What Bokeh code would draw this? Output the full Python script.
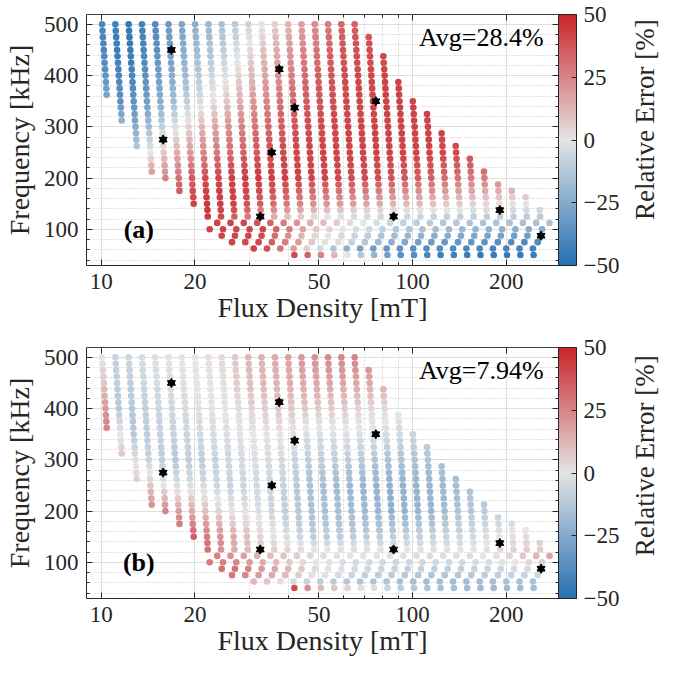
import numpy as np
from bokeh.plotting import figure
from bokeh.models import (LinearColorMapper, ColorBar, FixedTicker, Label, LinearAxis,
                          LogAxis, ColumnDataSource, Range1d, PrintfTickFormatter)
from bokeh.layouts import column, row
from bokeh.embed import file_html
from bokeh.resources import INLINE

FONT = "Liberation Serif"
INK = "#262626"

# ---------------- measurement grid (read from the picture) ----------------
# each row: frequency [kHz], flux density of the first (left-most) point [mT], number of points
row_freq = [500, 487.5, 475, 462.5, 450, 437.5, 425, 412.5, 400, 387.5, 375, 362.5,
            350, 337.5, 325, 312.5, 300, 287.5, 275, 262.5, 250, 237.5, 225, 212.5,
            200, 187.5, 175, 162.5, 150, 137.5, 125, 112.5, 100, 87.5, 75, 62.5, 50]
row_b_first = [10.06, 10.09, 10.12, 10.16, 10.19, 10.22, 10.25, 10.29, 10.32, 10.35, 10.38, 10.41,
               11.52, 11.56, 11.60, 11.63, 12.88, 12.92, 12.96, 13.00, 14.38, 14.43, 14.48, 14.52,
               16.07, 17.78, 17.83, 19.75, 19.81, 21.93, 21.98, 23.57, 22.30, 24.37, 26.30, 30.88, 41.71]
row_count = [20, 20, 21, 21, 21, 22, 22, 22, 22, 23, 23, 23,
             23, 23, 24, 24, 23, 24, 24, 25, 24, 25, 25, 26,
             25, 25, 26, 26, 26, 26, 26, 26, 26, 25, 24, 22, 19]
b_step = 1.1033          # ratio between neighbouring flux-density points in a row
col_slant = 1.0915e-4    # drift of a column (log10 B per kHz)

# ---------------- relative error read at anchor cells ----------------
# columns: index of the point column (0 = 10 mT column), rows: frequency [kHz]
err_cols = [0, 1, 2, 3, 4, 5, 6, 7, 9, 11, 13, 15, 18, 21, 24, 27, 30, 33]
err_freqs = [500, 450, 400, 350, 300, 250, 200, 150, 125, 112.5, 100, 87.5, 75, 62.5, 50]

err_a = [
    [-40, -43, -46, -42, -38, -32, -27, -23, -16, -7, 6, 18, 33, 38, 40, 40, 40, 40],
    [-40, -44, -45, -40, -36, -30, -24, -18, -10, 3, 15, 25, 37, 40, 40, 40, 40, 40],
    [-35, -40, -41, -36, -30, -25, -18, -12, -2, 12, 22, 32, 40, 42, 42, 42, 42, 42],
    [-25, -35, -35, -30, -24, -17, -10, -4, 8, 20, 30, 36, 40, 42, 42, 42, 42, 42],
    [-18, -18, -25, -17, -9, -2, 5, 12, 22, 30, 36, 40, 42, 42, 42, 42, 42, 42],
    [-10, -10, -10, 0, 8, 15, 20, 25, 32, 37, 40, 42, 42, 42, 42, 40, 40, 40],
    [25, 25, 25, 25, 25, 30, 36, 40, 43, 44, 43, 42, 40, 38, 34, 28, 25, 25],
    [40, 40, 40, 40, 40, 40, 42, 45, 42, 35, 28, 22, 18, 13, 9, 5, 1, 0],
    [45, 45, 45, 45, 45, 45, 45, 45, 35, 20, 10, 3, -4, -6, -8, -10, -10, -12],
    [42, 42, 42, 42, 42, 42, 42, 42, 42, 38, 25, 12, 2, -8, -12, -14, -15, -15],
    [42, 42, 42, 42, 42, 42, 42, 42, 42, 42, 28, 8, -3, -12, -17, -20, -23, -25],
    [42, 42, 42, 42, 42, 42, 42, 42, 42, 40, 22, 3, -8, -18, -24, -27, -30, -32],
    [42, 42, 42, 42, 42, 42, 42, 42, 42, 40, 25, 5, -10, -25, -32, -35, -38, -40],
    [42, 42, 42, 42, 42, 42, 42, 42, 42, 42, 22, -3, -28, -35, -38, -40, -42, -42],
    [45, 45, 45, 45, 45, 45, 45, 45, 45, 45, 42, 30, -10, -35, -42, -45, -45, -45],
]
err_b = [
    [0, -8, -6, -4, -2, -1, 0, 0, 3, 12, 15, 20, 25, 25, 25, 25, 25, 25],
    [8, -10, -10, -6, -4, -3, -2, 0, 2, 10, 13, 16, 17, 15, 15, 15, 15, 15],
    [20, -12, -12, -10, -7, -6, -4, -2, 0, 5, 8, 8, 6, 3, 0, 0, 0, 0],
    [28, 0, -12, -10, -8, -8, -7, -5, -3, 0, 0, -3, -2, -4, -8, -8, -8, -8],
    [10, 10, -2, -8, -10, -12, -10, -10, -6, -3, -5, -10, -10, -15, -14, -15, -15, -15],
    [8, 8, 8, 8, 0, -3, -3, -5, -8, -5, -8, -15, -19, -22, -20, -15, -15, -15],
    [25, 25, 25, 25, 25, 18, 15, 10, 0, -3, -10, -15, -17, -22, -20, -12, -8, -8],
    [35, 35, 35, 35, 35, 35, 35, 28, 15, 5, -3, -10, -11, -10, -8, -5, 2, 5],
    [30, 30, 30, 30, 30, 30, 30, 30, 15, 6, 5, 0, 2, 0, -2, 0, 5, 8],
    [28, 28, 28, 28, 28, 28, 28, 28, 20, 12, 8, 3, 0, -2, -3, -2, 5, 18],
    [28, 28, 28, 28, 28, 28, 28, 28, 25, 15, 8, 0, -4, -6, -6, -5, 0, 10],
    [32, 32, 32, 32, 32, 32, 32, 32, 30, 20, 12, 3, -5, -8, -10, -8, -5, -3],
    [30, 30, 30, 30, 30, 30, 30, 30, 28, 18, 10, 0, -8, -12, -14, -12, -8, -5],
    [15, 15, 15, 15, 15, 15, 15, 15, 15, 10, -3, -10, -13, -15, -17, -17, -15, -15],
    [45, 45, 45, 45, 45, 45, 45, 45, 45, 45, 45, 12, 3, -10, -15, -18, -18, -15],
]

# highlighted operating points (stars)
star_b = [16.8, 15.8, 37.3, 41.8, 35.3, 32.4, 76.2, 86.9, 190.6, 258.6]
star_f = [450, 275, 412.5, 337.5, 250, 125, 350, 125, 137.5, 87.5]

avg_a = "Avg=28.4%"
avg_b = "Avg=7.94%"

x_ticks = [10, 20, 50, 100, 200]
x_minor = [30, 40, 60, 70, 80, 90]
y_ticks = [100, 200, 300, 400, 500]
y_minor = [40, 60, 80, 120, 140, 160, 180, 220, 240, 260, 280, 320, 340, 360, 380,
           420, 440, 460, 480, 520]
cb_ticks = [-50, -25, 0, 25, 50]

# ---------------- build points ----------------
pts_b, pts_f = [], []
for f, b0, n in zip(row_freq, row_b_first, row_count):
    for k in range(n):
        pts_b.append(b0 * b_step ** k)
        pts_f.append(f)
pts_b = np.array(pts_b)
pts_f = np.array(pts_f, dtype=float)


def lookup(table):
    tab = np.array(table, dtype=float)
    u = (np.log10(pts_b / row_b_first[0]) - col_slant * (500 - pts_f)) / np.log10(b_step)
    per_row = np.array([np.interp(u, err_cols, tab[i]) for i in range(len(err_freqs))])
    fa = np.array(err_freqs, dtype=float)[::-1]
    per_row = per_row[::-1]
    out = np.empty(len(pts_b))
    for j in range(len(pts_b)):
        out[j] = np.interp(pts_f[j], fa, per_row[:, j])
    return out


def make_palette():
    lo = np.array([38, 112, 178.0])
    mid = np.array([229, 229, 229.0])
    hi = np.array([201, 38, 43.0])
    cols = []
    for t in np.linspace(0, 1, 256):
        c = lo + (mid - lo) * t * 2 if t < 0.5 else mid + (hi - mid) * (t - 0.5) * 2
        cols.append("#%02x%02x%02x" % tuple(int(round(v)) for v in c))
    return cols


mapper = LinearColorMapper(palette=make_palette(), low=-50, high=50)

TOP = 14
FRAME_H = 251


def style_axis(ax, show_labels=True):
    ax.axis_line_color = None
    ax.major_tick_in = 6
    ax.major_tick_out = 0
    ax.minor_tick_in = 3
    ax.minor_tick_out = 0
    ax.major_tick_line_color = INK
    ax.minor_tick_line_color = INK
    ax.major_label_text_font = FONT
    ax.major_label_text_color = INK
    ax.axis_label_text_font = FONT
    ax.axis_label_text_font_style = "normal"
    ax.axis_label_text_color = INK
    if show_labels:
        ax.major_label_text_font_size = "23px"
        ax.axis_label_text_font_size = "28px"
    else:
        ax.major_label_text_font_size = "0px"
        ax.major_label_standoff = 0


def make_panel(err_table, tag, avg_text, bottom_border):
    p = figure(x_axis_type="log", x_range=Range1d(8.965, 294.2), y_range=Range1d(29.4, 519.2),
               frame_width=472, frame_height=FRAME_H, min_border_left=85, min_border_right=69,
               min_border_top=TOP, min_border_bottom=bottom_border,
               output_backend="svg", toolbar_location=None,
               background_fill_color="white", border_fill_color="white")
    p.outline_line_color = INK
    p.outline_line_width = 1

    xt = FixedTicker(ticks=x_ticks, minor_ticks=x_minor)
    yt = FixedTicker(ticks=y_ticks, minor_ticks=y_minor)
    p.xaxis.ticker = xt
    p.yaxis.ticker = yt
    p.xaxis.formatter = PrintfTickFormatter(format="%d")
    p.xaxis.axis_label = "Flux Density [mT]"
    p.yaxis.axis_label = "Frequency [kHz]"
    style_axis(p.xaxis[0])
    style_axis(p.yaxis[0])
    p.xaxis.major_label_standoff = 8
    p.xaxis.axis_label_standoff = 0
    p.yaxis.major_label_standoff = 8
    p.yaxis.axis_label_standoff = 6

    top_ax = LogAxis(ticker=xt, formatter=PrintfTickFormatter(format=""))
    style_axis(top_ax, show_labels=False)
    p.add_layout(top_ax, "above")
    right_ax = LinearAxis(ticker=yt, formatter=PrintfTickFormatter(format=""))
    style_axis(right_ax, show_labels=False)
    right_ax.major_label_standoff = 8
    p.add_layout(right_ax, "right")

    for g in (p.xgrid[0], p.ygrid[0]):
        g.grid_line_color = "#dedede"
        g.grid_line_width = 1
        g.minor_grid_line_color = "#c4c4c4"
        g.minor_grid_line_dash = "1 2"
        g.minor_grid_line_width = 1

    src = ColumnDataSource(dict(b=pts_b, f=pts_f, err=lookup(err_table)))
    p.scatter("b", "f", source=src, size=6.6, line_color=None,
              fill_color={"field": "err", "transform": mapper})

    p.scatter(star_b, star_f, marker="triangle", size=8, color="black")
    p.scatter(star_b, star_f, marker="inverted_triangle", size=8, color="black")

    p.add_layout(Label(x=13.2, y=100, text=tag, text_font=FONT, text_font_size="26px",
                       text_font_style="bold", text_align="center", text_baseline="middle",
                       text_color="black"))
    p.add_layout(Label(x=263.4, y=474, text=avg_text, text_font=FONT, text_font_size="26px",
                       text_align="right", text_baseline="middle", text_color="black"))

    cb = ColorBar(color_mapper=mapper, ticker=FixedTicker(ticks=cb_ticks),
                  width=18, height=FRAME_H, margin=0, padding=0,
                  major_label_text_font=FONT, major_label_text_font_size="23px",
                  major_label_text_color=INK, label_standoff=7,
                  major_tick_line_color=INK, major_tick_in=5, major_tick_out=0,
                  bar_line_color=INK, bar_line_width=1,
                  border_line_color=None, background_fill_color=None)
    p.add_layout(cb, "right")
    return p


def make_side(total_h):
    s = figure(width=34, height=total_h, x_range=Range1d(0, 1), y_range=Range1d(0, total_h),
               min_border=0, toolbar_location=None, output_backend="svg",
               background_fill_color="white", border_fill_color="white")
    s.outline_line_color = None
    s.axis.visible = False
    s.grid.visible = False
    s.add_layout(Label(x=0.5, y=total_h - (TOP + FRAME_H / 2), text="Relative Error [%]",
                       angle=np.pi / 2, text_font=FONT, text_font_size="27px",
                       text_align="center", text_baseline="middle", text_color=INK))
    return s


BOT1, BOT2 = 68, 60
p1 = make_panel(err_a, "(a)", avg_a, BOT1)
p2 = make_panel(err_b, "(b)", avg_b, BOT2)
s1 = make_side(TOP + FRAME_H + BOT1)
s2 = make_side(TOP + FRAME_H + 66)

layout = column(row(p1, s1), row(p2, s2))
open("out.html", "w").write(file_html(layout, INLINE))
